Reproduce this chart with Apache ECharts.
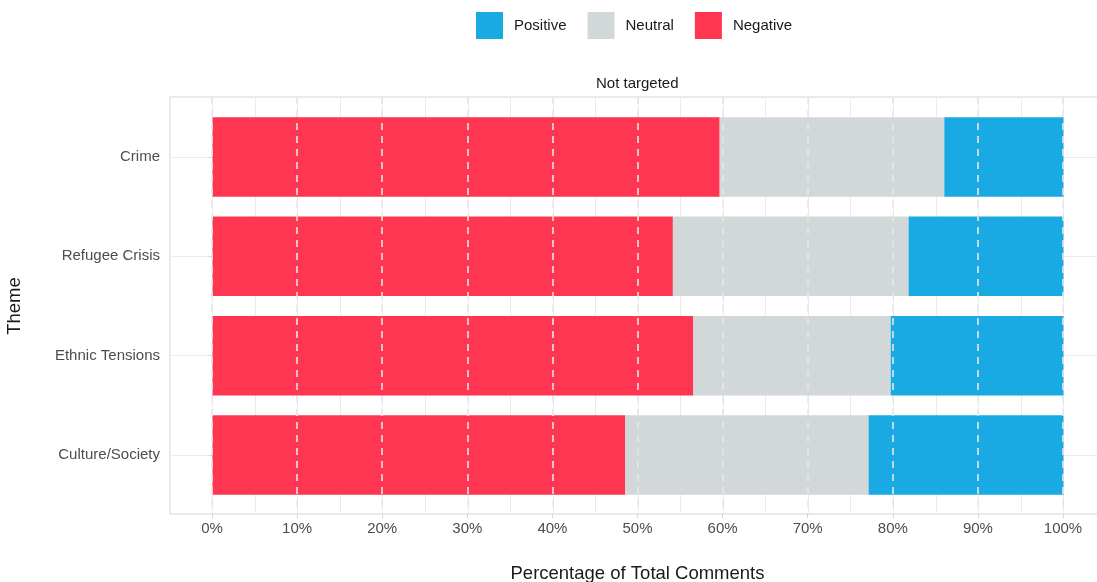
<!DOCTYPE html>
<html>
<head>
<meta charset="utf-8">
<script src="https://cdn.jsdelivr.net/npm/echarts@6/dist/echarts.min.js"></script>
<style>html,body{margin:0;padding:0;background:#fff;}#c{width:1097px;height:582px;}</style>
</head>
<body>
<div id="c"></div>
<script>
var themes = ['Crime', 'Refugee Crisis', 'Ethnic Tensions', 'Culture/Society'];
var negative = [59.6, 54.1, 56.5, 48.5];
var neutral = [26.4, 27.7, 23.2, 28.6];
var positive = [14.0, 18.2, 20.3, 22.9];
var legendOrder = ['Positive', 'Neutral', 'Negative'];
var facetTitle = 'Not targeted';

var FONT = 'Liberation Sans, Arial, sans-serif';
var chart = echarts.init(document.getElementById('c'));
chart.setOption({
  animation: false,
  textStyle: {fontFamily: FONT},
  title: {text: facetTitle, left: 591, top: 71,
    textStyle: {fontSize: 15, fontWeight: 'normal', color: '#1a1a1a', fontFamily: FONT}},
  legend: {data: legendOrder, top: 7, left: 471, itemWidth: 27, itemHeight: 27, itemGap: 21,
    icon: 'rect', textStyle: {fontSize: 15, color: '#1a1a1a', padding: [0, 0, 0, 6], fontFamily: FONT}},
  grid: [
    {left: 170, top: 97, width: 936, height: 417, outerBoundsMode: 'none', containLabel: false,
      show: true, borderColor: '#e3e3e3', borderWidth: 1.5, backgroundColor: 'transparent'},
    {left: 170, top: 107.33, width: 936, height: 397.33, outerBoundsMode: 'none', containLabel: false},
    {left: 212, top: 97, width: 851, height: 417, outerBoundsMode: 'none', containLabel: false}
  ],
  xAxis: [
    {gridIndex: 0, type: 'value', min: -5, max: 105, interval: 5,
      axisLine: {show: false}, axisTick: {show: false}, axisLabel: {show: false},
      splitLine: {show: true, lineStyle: {color: '#ebebeb', width: 1}}},
    {gridIndex: 1, type: 'value', min: -5, max: 105, show: false},
    {gridIndex: 2, type: 'value', min: 0, max: 100, interval: 10, z: 10,
      name: 'Percentage of Total Comments', nameLocation: 'middle', nameGap: 50,
      nameTextStyle: {fontSize: 18.5, color: '#1a1a1a', fontFamily: FONT},
      axisLine: {show: false},
      axisTick: {show: true, length: 4, lineStyle: {color: '#d6d6d6'}},
      axisLabel: {fontSize: 15, color: '#4d4d4d', margin: 7, formatter: function (v) { return v + '%'; }},
      splitLine: {show: true, lineStyle: {color: '#e6e6e6', width: 1.6, type: [7, 6]}}}
  ],
  yAxis: [
    {gridIndex: 0, type: 'value', min: 0, max: 1, show: false},
    {gridIndex: 1, type: 'category', data: themes, inverse: true,
      name: 'Theme', nameLocation: 'middle', nameGap: 146, nameRotate: 90,
      nameTextStyle: {fontSize: 18.5, color: '#1a1a1a', fontFamily: FONT},
      axisLine: {show: false},
      axisTick: {show: true, alignWithLabel: true, length: 4, lineStyle: {color: '#d6d6d6'}},
      axisLabel: {fontSize: 15, color: '#4d4d4d', margin: 10},
      splitLine: {show: true, alignWithLabel: true, lineStyle: {color: '#ebebeb', width: 1}}},
    {gridIndex: 2, type: 'value', min: 0, max: 1, show: false}
  ],
  series: [
    {name: 'Negative', type: 'bar', stack: 's', xAxisIndex: 1, yAxisIndex: 1, data: negative,
      barCategoryGap: '20%', itemStyle: {color: '#ff3651'}},
    {name: 'Neutral', type: 'bar', stack: 's', xAxisIndex: 1, yAxisIndex: 1, data: neutral,
      barCategoryGap: '20%', itemStyle: {color: '#d2d7da'}},
    {name: 'Positive', type: 'bar', stack: 's', xAxisIndex: 1, yAxisIndex: 1, data: positive,
      barCategoryGap: '20%', itemStyle: {color: '#19aae3'}}
  ]
});
</script>
</body>
</html>
